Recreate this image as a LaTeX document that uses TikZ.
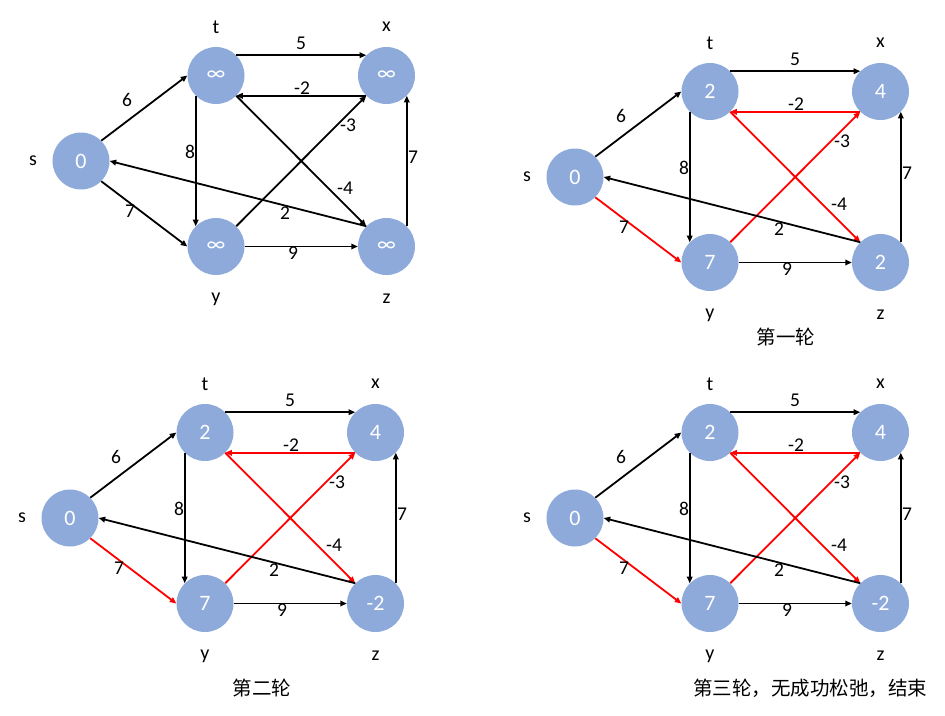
\documentclass[tikz,border=0pt]{standalone}
\usepackage{fontspec}
\setmainfont{Carlito}
\newfontfamily\cjk{Noto Sans CJK SC}
\usetikzlibrary{arrows.meta}
\definecolor{nodeblue}{RGB}{142,170,219}
\tikzset{
  vert/.style={circle,fill=nodeblue,draw=none,minimum size=57pt,inner sep=0pt,text=white,font=\fontsize{22}{24}\selectfont},
  vlbl/.style={inner sep=0pt,font=\fontsize{20}{22}\selectfont},
  elbl/.style={inner sep=0pt,font=\fontsize{19.5}{21}\selectfont},
  edge/.style={line width=1.8pt,-{Triangle[length=6.5pt,width=5.5pt]}},
  caption/.style={inner sep=0pt,font=\cjk\fontsize{19.5}{21}\selectfont},
}
% #1 prefix, #2 origin, #3..#7 values of s,t,x,y,z, #8 colour of relaxed edges
\newcommand{\bfgraph}[8]{%
\begin{scope}[shift={#2}]
  \node[vert] (#1s) at (0,0) {#3};
  \node[vert] (#1t) at (135,-85.5) {#4};
  \node[vert] (#1x) at (305.5,-85.5) {#5};
  \node[vert] (#1y) at (135,85.5) {#6};
  \node[vert] (#1z) at (305.5,85.5) {#7};
  \node[vlbl] (#1sn) at (-48,0) {s};
  \node[vlbl] (#1tn) at (135,-134) {t};
  \node[vlbl] (#1xn) at (305.5,-134) {x};
  \node[vlbl] (#1yn) at (135,138) {y};
  \node[vlbl] (#1zn) at (305.5,138) {z};
  \draw[edge] (#1s.north east) -- (#1t.west);
  \draw[edge,#8] (#1s.south east) -- (#1y.west);
  \draw[edge] (#1t.north east) -- (#1x.north west);
  \draw[edge,#8] (#1x.south west) -- (#1t.south east);
  \draw[edge] (#1t.south west) -- (#1y.north west);
  \draw[edge,#8] (#1t.south east) -- (#1z.north west);
  \draw[edge,#8] (#1y.north east) -- (#1x.south west);
  \draw[edge] (#1y.east) -- (#1z.west);
  \draw[edge] (#1z.north east) -- (#1x.south east);
  \draw[edge] (#1z.north west) -- (#1s.east);
  \node[elbl] (#1l6) at (46,-61) {6};
  \node[elbl] (#1l7a) at (49,50) {7};
  \node[elbl] (#1l5) at (220,-118) {5};
  \node[elbl] (#1lm2) at (221,-73) {-2};
  \node[elbl] (#1l8) at (109,-9) {8};
  \node[elbl] (#1lm3) at (267,-36) {-3};
  \node[elbl] (#1l7b) at (332,-4) {7};
  \node[elbl] (#1lm4) at (264,27) {-4};
  \node[elbl] (#1l2) at (204,52) {2};
  \node[elbl] (#1l9) at (212,92) {9};
\end{scope}}
\begin{document}
\begin{tikzpicture}[x=1pt,y=-1pt]
  \useasboundingbox (0,0) rectangle (945,715);
  \bfgraph{a}{(81,161)}{0}{∞}{∞}{∞}{∞}{black}
  \bfgraph{b}{(575,177)}{0}{2}{4}{7}{2}{red}
  \bfgraph{c}{(70,518)}{0}{2}{4}{7}{-2}{red}
  \bfgraph{d}{(575,518)}{0}{2}{4}{7}{-2}{red}
  \node[caption] (cap1) at (786,337) {第一轮};
  \node[caption] (cap2) at (262,688) {第二轮};
  \node[caption] (cap3) at (810,688) {第三轮，无成功松弛，结束};
\end{tikzpicture}
\end{document}
